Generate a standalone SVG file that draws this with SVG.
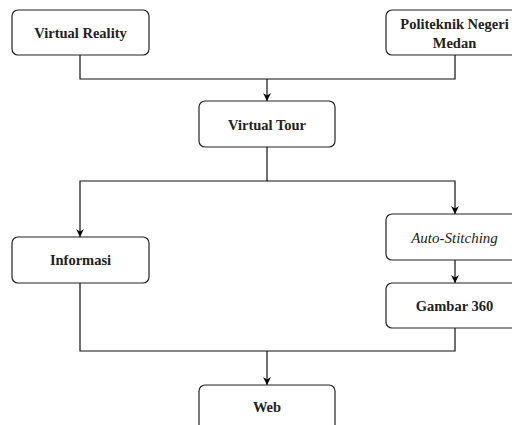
<svg xmlns="http://www.w3.org/2000/svg" width="512" height="425" viewBox="0 0 512 425">
<defs>
<marker id="arr" viewBox="0 0 10 10" refX="10" refY="5" markerWidth="8" markerHeight="8" markerUnits="userSpaceOnUse" orient="auto">
<path d="M0,0 L10,5 L0,10 L3,5 z" fill="#000"/>
</marker>
<style>
.box{fill:#fff;stroke:#222;stroke-width:1.2}
.t{font-family:"Liberation Serif","Times New Roman",serif;font-size:14.5px;font-weight:bold;fill:#222;text-anchor:middle}
.i{font-style:italic;font-weight:normal;font-size:15px}
.c{fill:none;stroke:#111;stroke-width:1.2}
</style>
</defs>
<rect width="512" height="425" fill="#fff"/>
<g id="connectors">
<path class="c" d="M80,55 V79 H455 V55"/>
<path class="c" d="M267,79 V101" marker-end="url(#arr)"/>
<path class="c" d="M267,147 V181 H80 V237" marker-end="url(#arr)"/>
<path class="c" d="M267,181 H455 V214" marker-end="url(#arr)"/>
<path class="c" d="M455,260 V283" marker-end="url(#arr)"/>
<path class="c" d="M80,283 V351 H455 V328"/>
<path class="c" d="M267,351 V385" marker-end="url(#arr)"/>
</g>
<g id="virtual-reality">
<rect class="box" x="12" y="10" width="137" height="45" rx="6"/>
<text class="t" x="80.5" y="38">Virtual Reality</text>
</g>
<g id="politeknik">
<rect class="box" x="386" y="10" width="137" height="45" rx="6"/>
<text class="t" x="454.5" y="29">Politeknik Negeri</text>
<text class="t" x="454.5" y="48">Medan</text>
</g>
<g id="virtual-tour">
<rect class="box" x="199" y="101" width="136" height="46" rx="6"/>
<text class="t" x="267" y="129.5">Virtual Tour</text>
</g>
<g id="informasi">
<rect class="box" x="12" y="237" width="137" height="46" rx="6"/>
<text class="t" x="80.5" y="265">Informasi</text>
</g>
<g id="auto-stitching">
<rect class="box" x="386" y="214" width="137" height="46" rx="6"/>
<text class="t i" x="454.5" y="242.5">Auto-Stitching</text>
</g>
<g id="gambar-360">
<rect class="box" x="386" y="283" width="137" height="45" rx="6"/>
<text class="t" x="454.5" y="311">Gambar 360</text>
</g>
<g id="web">
<rect class="box" x="199" y="385" width="136" height="60" rx="6"/>
<text class="t" x="267" y="412">Web</text>
</g>
</svg>
